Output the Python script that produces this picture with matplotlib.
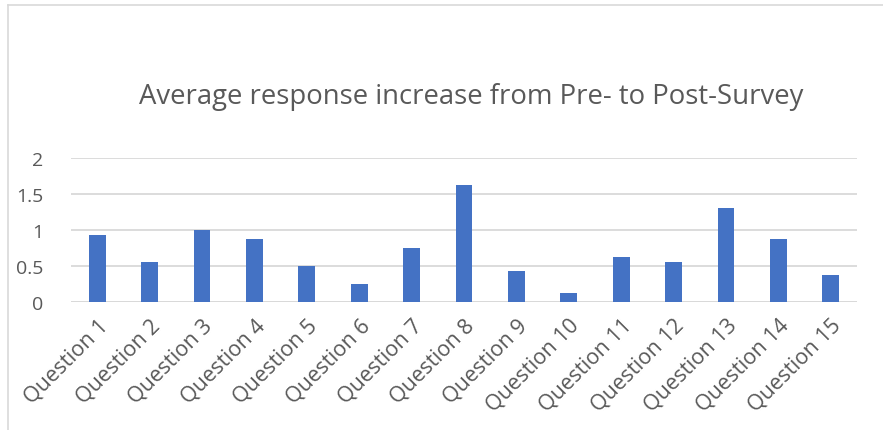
import matplotlib.pyplot as plt
from matplotlib.lines import Line2D
import numpy as np

questions = ["Question %d" % i for i in range(1, 16)]
increase = [0.9375, 0.5625, 1.0, 0.875, 0.5, 0.25, 0.75, 1.625,
            0.4375, 0.125, 0.625, 0.5625, 1.3125, 0.875, 0.375]
yticks = [0, 0.5, 1, 1.5, 2]

plt.rcParams['font.family'] = ['Open Sans', 'DejaVu Sans']
txt = '#595959'

fig = plt.figure(figsize=(8.83, 4.31), dpi=100)
ax = fig.add_axes([71/883, 128/431, 786/883, 144/431])

x = np.arange(len(questions))
ax.bar(x, increase, width=0.32, color='#4472C4', zorder=3)
ax.set_xlim(-0.5, len(questions) - 0.5)
ax.set_ylim(0, 2)
ax.set_yticks(yticks)
ax.set_yticklabels(['0', '0.5', '1', '1.5', '2'], fontsize=14, color=txt)
ax.yaxis.grid(True, color='#D9D9D9', lw=1.3, zorder=0)
ax.set_xticks(x)
ax.set_xticklabels(questions, rotation=45, ha='right', va='top',
                   rotation_mode='anchor', fontsize=15.5, color=txt)
ax.tick_params(length=0)
ax.tick_params(axis='y', pad=20)
ax.tick_params(axis='x', pad=9)
for s in ax.spines.values():
    s.set_visible(False)
ax.axhline(0, color='#D9D9D9', lw=1.3, zorder=2)

fig.text(471/883, 1 - 97/431, "Average response increase from Pre- to Post-Survey",
         ha='center', va='center', fontsize=19.8, color=txt)

# chart frame (top and left edges visible)
fig.add_artist(Line2D([8/883, 1], [1 - 6/431, 1 - 6/431], color='#D9D9D9', lw=1.2))
fig.add_artist(Line2D([8/883, 8/883], [0, 1 - 6/431], color='#D9D9D9', lw=1.2))

fig.savefig('out.png', dpi=100)
